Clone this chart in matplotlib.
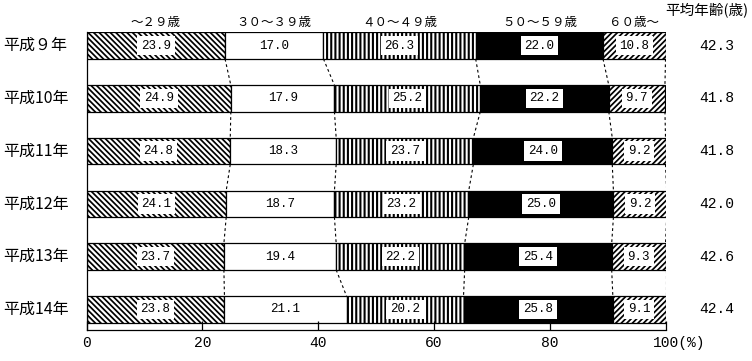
import matplotlib
matplotlib.use('Agg')
import matplotlib.pyplot as plt
import matplotlib.transforms as mtransforms
import numpy as np

plt.rcParams['font.family'] = ['Noto Sans CJK JP', 'DejaVu Sans']

# data (% share by age group)
years = ['平成９年', '平成10年', '平成11年', '平成12年', '平成13年', '平成14年']
age_groups = ['～２９歳', '３０～３９歳', '４０～４９歳', '５０～５９歳', '６０歳～']
under29 = [23.9, 24.9, 24.8, 24.1, 23.7, 23.8]
age30s = [17.0, 17.9, 18.3, 18.7, 19.4, 21.1]
age40s = [26.3, 25.2, 23.7, 23.2, 22.2, 20.2]
age50s = [22.0, 22.2, 24.0, 25.0, 25.4, 25.8]
over60 = [10.8, 9.7, 9.2, 9.2, 9.3, 9.1]
avg_age = [42.3, 41.8, 41.8, 42.0, 42.6, 42.4]

series = [under29, age30s, age40s, age50s, over60]
# (facecolor, hatch, hatch linewidth)
styles = [
    ('white', '\\' * 6, 1.25),
    ('white', None, 0.8),
    ('white', '|' * 4, 1.5),
    ('black', None, 0.8),
    ('white', '/' * 6, 1.25),
]

num_font = 'Liberation Mono'

fig = plt.figure(figsize=(7.52, 3.61), dpi=100)
ax = fig.add_axes([0.1153, 0.0859, 0.7697, 0.8241])

y = np.arange(len(years))
bar_h = 0.5
y_top, y_bottom = -0.25, 5.39
left = np.zeros(len(years))
edges = [left.copy()]

for vals, (fc, hatch, hlw) in zip(series, styles):
    vals = np.array(vals)
    bars = ax.barh(y, vals, left=left, height=bar_h, color=fc, edgecolor='black',
                   linewidth=0.9, hatch=hatch)
    for b in bars:
        if hasattr(b, 'set_hatch_linewidth'):
            b.set_hatch_linewidth(hlw)
    for yi, l, v in zip(y, left, vals):
        ax.text(l + v / 2, yi, f"{v:.1f}", ha='center', va='center', fontsize=9,
                family=num_font,
                bbox=dict(boxstyle='square,pad=0.3', facecolor='white', edgecolor='none'))
    left = left + vals
    edges.append(left.copy())

# dashed connectors between neighbouring bars
for k in range(1, len(edges)):
    xs = edges[k]
    for i in range(len(years) - 1):
        ax.plot([xs[i], xs[i + 1]], [i + bar_h / 2, i + 1 - bar_h / 2],
                color='black', linewidth=0.8, linestyle=(0, (2.5, 2.5)))

# age group headers centred over the first bar
for k, name in enumerate(age_groups):
    xc = (edges[k][0] + edges[k + 1][0]) / 2
    ax.text(xc, y_top - 0.07, name, ha='center', va='bottom', fontsize=9,
            clip_on=False)

# year labels on the left, averages on the right
trans = mtransforms.blended_transform_factory(fig.transFigure, ax.transData)
for yi, yr, a in zip(y, years, avg_age):
    ax.text(3 / 752, yi, yr, ha='left', va='center', fontsize=11.5, transform=trans)
    ax.text(717 / 752, yi, f"{a:.1f}", ha='center', va='center', fontsize=10.5,
            family=num_font, transform=trans)

fig.text(748 / 752, 1 - 10 / 361, '平均年齢(歳)', ha='right', va='center', fontsize=10.5)

ax.set_xlim(0, 100)
ax.set_ylim(y_bottom, y_top)
ax.set_xticks([0, 20, 40, 60, 80, 100])
ax.set_xticklabels(['0', '20', '40', '60', '80', '100(%)'], family=num_font, fontsize=10.5)
ax.tick_params(axis='x', direction='in', length=6.5, width=0.9, pad=4)
# keep "100" centred on its tick, "(%)" trailing after it
last = ax.get_xticklabels()[-1]
last.set_horizontalalignment('left')
last.set_transform(last.get_transform() +
                   mtransforms.ScaledTranslation(-13 / 100, 0, fig.dpi_scale_trans))
ax.set_yticks([])
ax.spines['top'].set_visible(False)
ax.spines['right'].set_visible(False)
ax.spines['left'].set_linewidth(0.9)
ax.spines['bottom'].set_linewidth(0.9)

fig.savefig('out.png', dpi=100)
